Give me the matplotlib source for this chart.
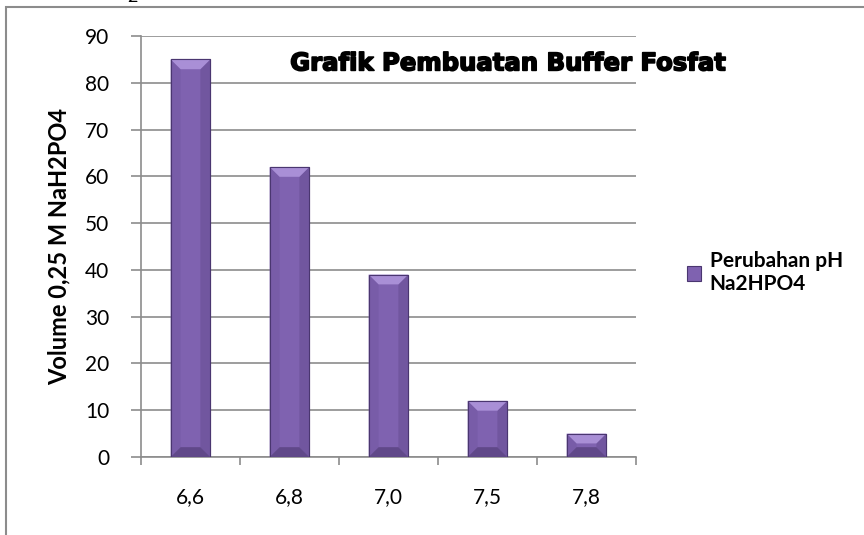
import matplotlib.pyplot as plt
import matplotlib.patheffects as pe
from matplotlib.patches import Rectangle, Polygon

# data
categories = ["6,6", "6,8", "7,0", "7,5", "7,8"]
volumes = [85, 62, 39, 12, 5]
y_ticks = [0, 10, 20, 30, 40, 50, 60, 70, 80, 90]

title = "Grafik Pembuatan Buffer Fosfat"
y_label = "Volume 0,25 M NaH2PO4"
legend_label = "Perubahan pH\nNa2HPO4"

plt.rcParams["font.family"] = ["Lato", "DejaVu Sans"]

fig = plt.figure(figsize=(8.64, 5.35), dpi=100)
ax = fig.add_axes([0.1632, 0.1458, 0.5729, 0.7869])

# outer chart border
fig.patches.append(Rectangle((6 / 864, -0.01), 1.0, 1 - 7 / 535 + 0.01,
                             transform=fig.transFigure, fill=False,
                             edgecolor="#8c8c8c", linewidth=1.5))
fig.text(0.153, 1.005, "2", fontsize=13, va="center", ha="center")

face = "#7f62b0"
width = 0.4
x = list(range(len(categories)))
bars = ax.bar(x, volumes, width=width, color=face, edgecolor="#4a3670",
              linewidth=0.8, zorder=3, label=legend_label)

# bevel facets on each bar
bx = 0.1
for xi, v in zip(x, volumes):
    l, r = xi - width / 2, xi + width / 2
    by = min(2.1, v / 2)
    top = [(l, v), (r, v), (r - bx, v - by), (l + bx, v - by)]
    bot = [(l, 0), (r, 0), (r - bx, by), (l + bx, by)]
    lft = [(l, 0), (l + bx, by), (l + bx, v - by), (l, v)]
    rgt = [(r, 0), (r - bx, by), (r - bx, v - by), (r, v)]
    ax.add_patch(Polygon(lft, closed=True, color="#785ca8", lw=0, zorder=4))
    ax.add_patch(Polygon(rgt, closed=True, color="#71569f", lw=0, zorder=4))
    ax.add_patch(Polygon(bot, closed=True, color="#604889", lw=0, zorder=4))
    ax.add_patch(Polygon(top, closed=True, color="#a98fd6", lw=0, zorder=4))
    ax.add_patch(Rectangle((l, 0), width, v, fill=False, edgecolor="#4a3670",
                           lw=0.8, zorder=5))

ax.set_xlim(-0.5, len(categories) - 0.5)
ax.set_ylim(0, 90)
ax.set_yticks(y_ticks)
ax.set_yticklabels([str(t) for t in y_ticks], fontsize=15)
ax.set_xticks(x)
ax.set_xticklabels(categories, fontsize=15)
ax.set_xticks([i - 0.5 for i in range(len(categories) + 1)], minor=True)
ax.tick_params(axis="x", which="major", length=0, pad=22)
ax.tick_params(axis="x", which="minor", length=6, color="#8c8c8c", width=1.2)
ax.tick_params(axis="y", length=7, color="#8c8c8c", width=1.2, pad=16)

ax.grid(axis="y", color="#8c8c8c", linewidth=1.2, zorder=0)
for side in ["top", "right"]:
    ax.spines[side].set_visible(False)
for side in ["left", "bottom"]:
    ax.spines[side].set_color("#8c8c8c")
    ax.spines[side].set_linewidth(1.2)

ax.set_ylabel(y_label, fontsize=17, fontweight="bold", labelpad=10)
t = ax.text(0.74, 0.935, title, transform=ax.transAxes, fontsize=17.5,
            fontweight="bold", family="DejaVu Sans", ha="center", va="center",
            zorder=6)
t.set_path_effects([pe.withStroke(linewidth=1.2, foreground="black")])

leg = fig.legend(handles=[bars], labels=[legend_label], loc="center left",
                 bbox_to_anchor=(0.795, 0.49), frameon=False,
                 prop={"weight": "bold", "size": 15}, handlelength=0.7,
                 handleheight=0.7, handletextpad=0.4, borderpad=0,
                 borderaxespad=0, labelspacing=0.3)

fig.savefig("out.png", dpi=100)
